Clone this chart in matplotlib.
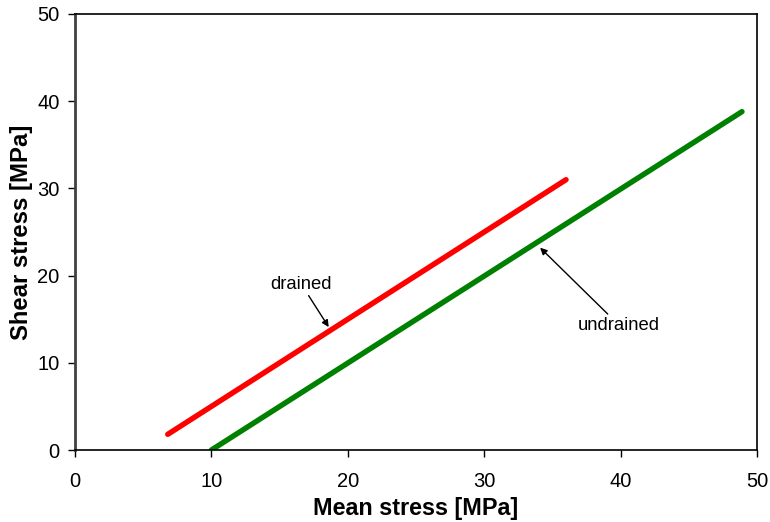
import matplotlib
matplotlib.use("Agg")
import matplotlib.pyplot as plt

plt.rcParams['font.family'] = ['Liberation Sans', 'DejaVu Sans']

# stress paths (mean stress, shear stress) in MPa
drained_p = [6.8, 36.0]
drained_q = [1.8, 31.0]
undrained_p = [10.0, 48.9]
undrained_q = [0.0, 38.8]

ticks = [0, 10, 20, 30, 40, 50]

fig = plt.figure(figsize=(7.7, 5.22), dpi=100)
ax = fig.add_axes([0.0974, 0.1379, 0.8857, 0.8353])

ax.plot(drained_p, drained_q, color='#ff0000', lw=3.9, solid_capstyle='round')
ax.plot(undrained_p, undrained_q, color='#008000', lw=3.9, solid_capstyle='round')

ax.set_xlim(0, 50)
ax.set_ylim(0, 50)
ax.set_xticks(ticks)
ax.set_yticks(ticks)
ax.tick_params(labelsize=14.5, direction='out', length=5, width=1)
ax.tick_params(axis='x', pad=11)
ax.tick_params(axis='y', pad=6)
ax.set_xlabel('Mean stress [MPa]', fontsize=16.8, fontweight='bold', labelpad=4)
ax.set_ylabel('Shear stress [MPa]', fontsize=17.2, fontweight='bold', labelpad=3)
for s in ax.spines.values():
    s.set_linewidth(1.2)
ax.spines['left'].set_linewidth(2)
ax.spines['left'].set_color('#404040')

arrow = dict(arrowstyle='-|>', color='black', lw=1, mutation_scale=10, shrinkA=0, shrinkB=0)
ax.annotate('drained', xy=(18.6, 14.1), xytext=(16.6, 19.0), fontsize=13.3,
            ha='center', va='center', arrowprops=arrow)
ax.annotate('undrained', xy=(34.1, 23.2), xytext=(39.9, 14.3), fontsize=13.3,
            ha='center', va='center', arrowprops=arrow)

fig.savefig('out.png', dpi=100, facecolor='white')
